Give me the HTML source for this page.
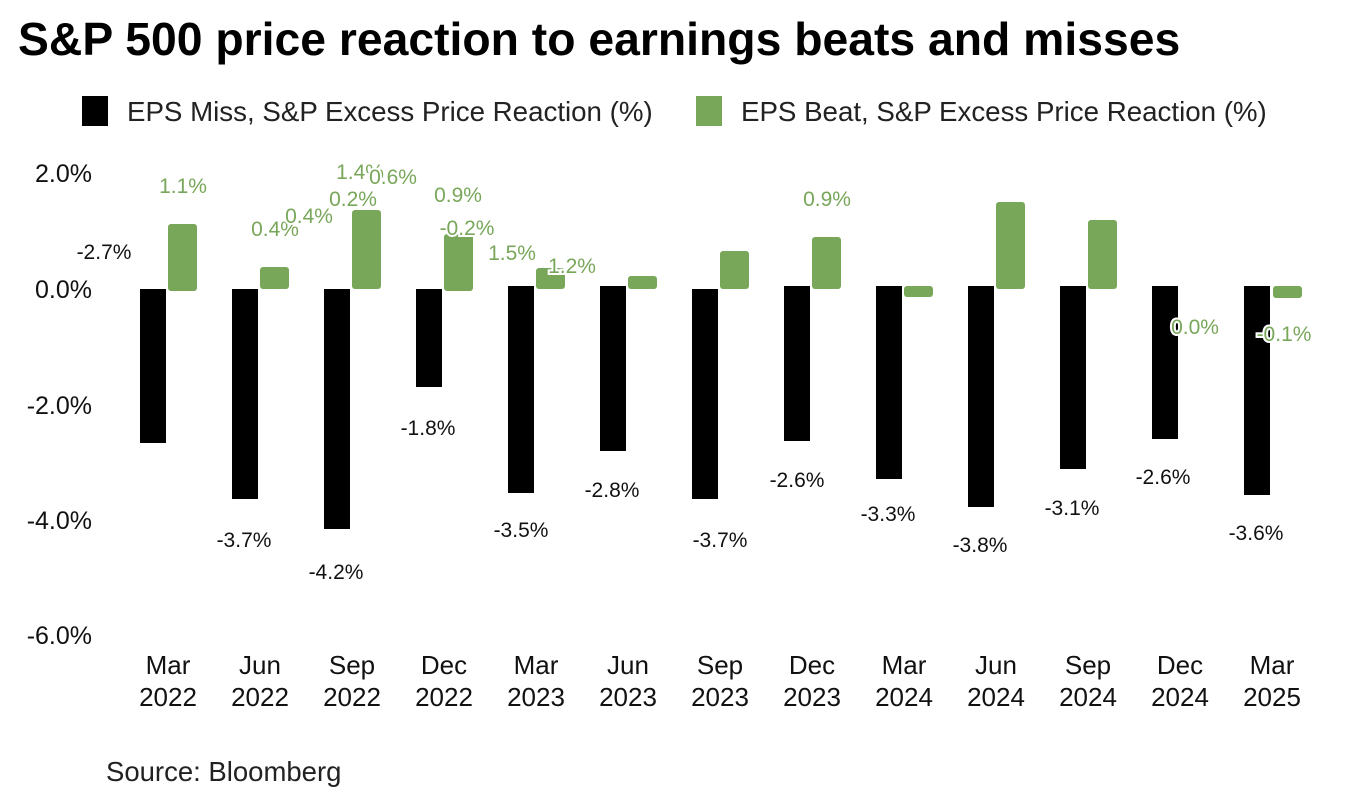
<!DOCTYPE html>
<html><head><meta charset="utf-8"><style>
html,body{margin:0;padding:0;background:#fff;}
svg{display:block;font-family:"Liberation Sans",sans-serif;}
.g{fill:#78a75a;font-size:21px;text-anchor:middle;stroke:#fff;stroke-width:4px;paint-order:stroke;}
.k{fill:#111;font-size:21px;text-anchor:middle;}
.ax{fill:#111;font-size:25px;text-anchor:end;}
.xl{fill:#111;font-size:26px;text-anchor:middle;}
</style></head><body>
<svg width="1350" height="806" viewBox="0 0 1350 806">
<text x="18" y="55" font-size="46.3" font-weight="bold" fill="#000">S&amp;P 500 price reaction to earnings beats and misses</text>
<rect x="82" y="96" width="26" height="30" fill="#000"/>
<text x="127" y="121" font-size="27.7" fill="#222">EPS Miss, S&amp;P Excess Price Reaction (%)</text>
<rect x="696" y="96" width="26" height="30" fill="#78a75a"/>
<text x="741" y="121" font-size="27.7" fill="#222">EPS Beat, S&amp;P Excess Price Reaction (%)</text>
<text class="ax" x="92" y="182">2.0%</text>
<text class="ax" x="92" y="298">0.0%</text>
<text class="ax" x="92" y="414">-2.0%</text>
<text class="ax" x="92" y="529">-4.0%</text>
<text class="ax" x="92" y="644">-6.0%</text>
<g fill="#000">
<rect x="140" y="289" width="26" height="154"/>
<rect x="232" y="289" width="26" height="210"/>
<rect x="324" y="289" width="26" height="240"/>
<rect x="416" y="289" width="26" height="98"/>
<rect x="508" y="286" width="26" height="207"/>
<rect x="600" y="286" width="26" height="165"/>
<rect x="692" y="289" width="26" height="210"/>
<rect x="784" y="286" width="26" height="155"/>
<rect x="876" y="286" width="26" height="193"/>
<rect x="968" y="286" width="26" height="221"/>
<rect x="1060" y="286" width="26" height="183"/>
<rect x="1152" y="286" width="26" height="153"/>
<rect x="1244" y="286" width="26" height="209"/>
</g>
<g fill="#78a75a">
<rect x="168" y="224" width="29" height="67" rx="3"/>
<rect x="260" y="267" width="29" height="22" rx="3"/>
<rect x="352" y="210" width="29" height="79" rx="3"/>
<rect x="444" y="234" width="29" height="57" rx="3"/>
<rect x="536" y="268" width="29" height="21" rx="3"/>
<rect x="628" y="276" width="29" height="13" rx="3"/>
<rect x="720" y="251" width="29" height="38" rx="3"/>
<rect x="812" y="237" width="29" height="52" rx="3"/>
<rect x="904" y="286" width="29" height="11" rx="3"/>
<rect x="996" y="202" width="29" height="87" rx="3"/>
<rect x="1088" y="220" width="29" height="69" rx="3"/>
<rect x="1273" y="286" width="29" height="12" rx="3"/>
</g>
<text class="g" x="183" y="193">1.1%</text>
<text class="k" x="104" y="259">-2.7%</text>
<text class="g" x="275" y="236">0.4%</text>
<text class="g" x="309" y="223">0.4%</text>
<text class="g" x="360" y="179">1.4%</text>
<text class="g" x="393" y="184">0.6%</text>
<text class="g" x="353" y="206">0.2%</text>
<text class="g" x="458" y="202">0.9%</text>
<text class="g" x="467" y="235">-0.2%</text>
<text class="g" x="512" y="260">1.5%</text>
<text class="g" x="572" y="273">1.2%</text>
<text class="g" x="827" y="206">0.9%</text>
<text class="g" x="1195" y="334">0.0%</text>
<text class="g" x="1284" y="341">-0.1%</text>
<text class="k" x="428" y="435">-1.8%</text>
<text class="k" x="244" y="547">-3.7%</text>
<text class="k" x="336" y="579">-4.2%</text>
<text class="k" x="521" y="537">-3.5%</text>
<text class="k" x="612" y="497">-2.8%</text>
<text class="k" x="720" y="547">-3.7%</text>
<text class="k" x="797" y="487">-2.6%</text>
<text class="k" x="888" y="521">-3.3%</text>
<text class="k" x="980" y="552">-3.8%</text>
<text class="k" x="1072" y="515">-3.1%</text>
<text class="k" x="1163" y="484">-2.6%</text>
<text class="k" x="1256" y="540">-3.6%</text>
<g class="xl">
<text x="168" y="674">Mar</text><text x="168" y="706">2022</text>
<text x="260" y="674">Jun</text><text x="260" y="706">2022</text>
<text x="352" y="674">Sep</text><text x="352" y="706">2022</text>
<text x="444" y="674">Dec</text><text x="444" y="706">2022</text>
<text x="536" y="674">Mar</text><text x="536" y="706">2023</text>
<text x="628" y="674">Jun</text><text x="628" y="706">2023</text>
<text x="720" y="674">Sep</text><text x="720" y="706">2023</text>
<text x="812" y="674">Dec</text><text x="812" y="706">2023</text>
<text x="904" y="674">Mar</text><text x="904" y="706">2024</text>
<text x="996" y="674">Jun</text><text x="996" y="706">2024</text>
<text x="1088" y="674">Sep</text><text x="1088" y="706">2024</text>
<text x="1180" y="674">Dec</text><text x="1180" y="706">2024</text>
<text x="1272" y="674">Mar</text><text x="1272" y="706">2025</text>
</g>
<text x="106" y="781" font-size="27.5" fill="#222">Source: Bloomberg</text>
</svg>
</body></html>
